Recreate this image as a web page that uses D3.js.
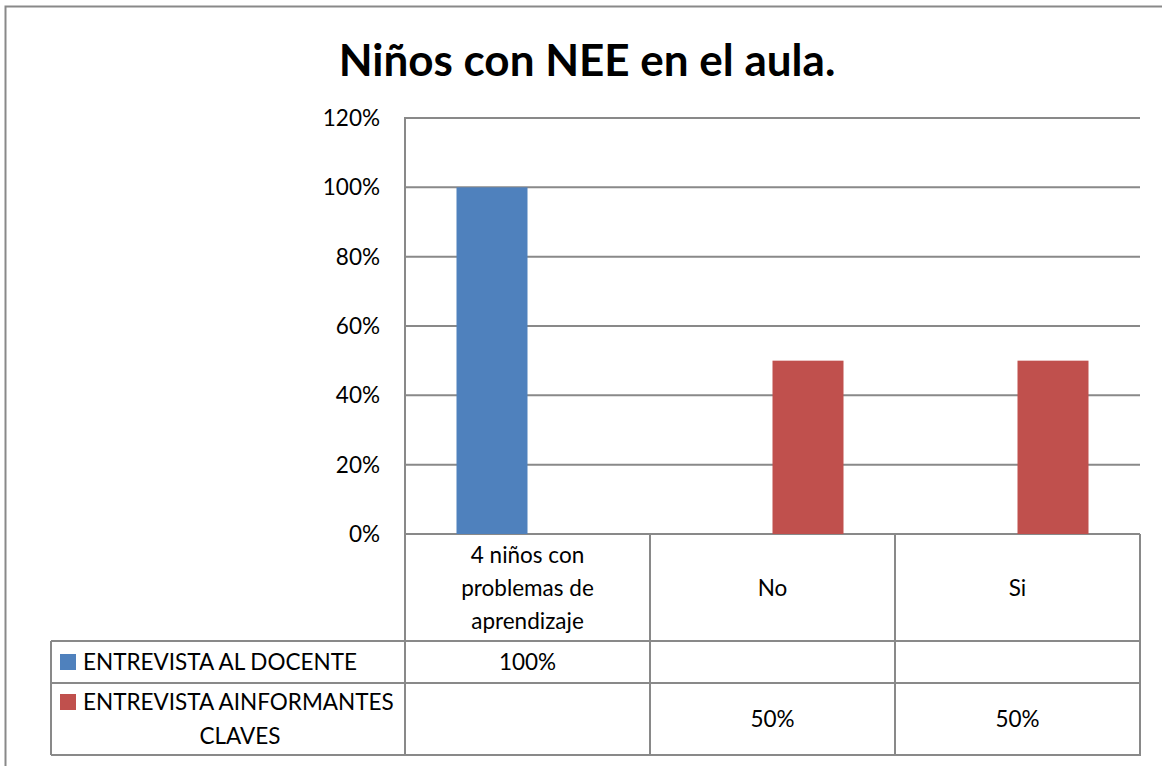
<!DOCTYPE html>
<html><head><meta charset="utf-8">
<script src="https://cdn.jsdelivr.net/npm/d3@7"></script>
<style>body{margin:0;background:#fff}svg{display:block}</style>
</head><body>
<svg id="c" width="1162" height="766"></svg>
<script>
const title = "Niños con NEE en el aula.";
const categories = [["4 niños con","problemas de","aprendizaje"],["No"],["Si"]];
const seriesNames = [["ENTREVISTA AL DOCENTE"],["ENTREVISTA AINFORMANTES","CLAVES"]];
const docente = [1.0, null, null];
const informantes = [null, 0.5, 0.5];
const colors = ["#4F81BD","#C0504D"];
const yTicks = [0,0.2,0.4,0.6,0.8,1.0,1.2];

const series = [docente, informantes];
const svg = d3.select("#c");
const font = "Lato, 'Open Sans', sans-serif";
const fs = 22.5;
const grid = "#898989";

// outer border
svg.append("rect").attr("x",5.5).attr("y",6.5).attr("width",1170).attr("height",800)
  .attr("fill","none").attr("stroke","#898989").attr("stroke-width",2);

svg.append("text").attr("x",587).attr("y",76).attr("text-anchor","middle")
  .attr("font-family",font).attr("font-weight","bold").attr("font-size",44).attr("fill","#000").text(title);

const L=405, R=1140, T=118, B=534;
const x = d3.scaleBand().domain(d3.range(categories.length)).range([L,R]);
const y = d3.scaleLinear().domain([0,1.2]).range([B,T]);
const xi = d3.scaleBand().domain(d3.range(series.length)).range([0,142]);

// gridlines
svg.append("g").selectAll("line").data(yTicks).join("line")
  .attr("x1",L).attr("x2",R).attr("y1",d=>y(d)).attr("y2",d=>y(d))
  .attr("stroke",grid).attr("stroke-width",2);
svg.append("line").attr("x1",L).attr("x2",L).attr("y1",T-1).attr("y2",B).attr("stroke",grid).attr("stroke-width",2);

// y labels
svg.append("g").selectAll("text").data(yTicks).join("text")
  .attr("x",380).attr("y",d=>y(d)+8).attr("text-anchor","end")
  .attr("font-family",font).attr("font-size",fs).text(d=>d3.format(".0%")(d));

// bars
series.forEach((s,si)=>{
  svg.append("g").selectAll("rect").data(s.map((v,i)=>({v,i})).filter(d=>d.v!=null)).join("rect")
    .attr("x",d=>x(d.i)+(x.bandwidth()-142)/2+xi(si)).attr("width",xi.bandwidth())
    .attr("y",d=>y(d.v)).attr("height",d=>B-y(d.v)).attr("fill",colors[si]);
});

// data table
const rows = [B, 641, 683, 755];
const tbl = svg.append("g").attr("stroke",grid).attr("stroke-width",2);
x.domain().forEach(i=>{ tbl.append("line").attr("x1",x(i)).attr("x2",x(i)).attr("y1",B).attr("y2",rows[3]); });
tbl.append("line").attr("x1",R).attr("x2",R).attr("y1",B).attr("y2",rows[3]);
tbl.append("line").attr("x1",51).attr("x2",51).attr("y1",rows[1]).attr("y2",rows[3]);
tbl.append("line").attr("x1",51).attr("x2",R).attr("y1",rows[1]).attr("y2",rows[1]);
tbl.append("line").attr("x1",51).attr("x2",R).attr("y1",rows[2]).attr("y2",rows[2]);
tbl.append("line").attr("x1",51).attr("x2",R+1).attr("y1",rows[3]).attr("y2",rows[3]);

// category labels
categories.forEach((lines,i)=>{
  const cx = x(i)+x.bandwidth()/2, cy=(rows[0]+rows[1])/2;
  lines.forEach((t,k)=>{
    svg.append("text").attr("x",cx).attr("y",cy+8+(k-(lines.length-1)/2)*33)
      .attr("text-anchor","middle").attr("font-family",font).attr("font-size",fs).text(t);
  });
});

// series rows
series.forEach((s,si)=>{
  const top=rows[si+1], bot=rows[si+2], cy=(top+bot)/2;
  const names = seriesNames[si];
  if(names.length===1){
    svg.append("rect").attr("x",60).attr("y",cy-8).attr("width",16).attr("height",16).attr("fill",colors[si]);
    svg.append("text").attr("x",83).attr("y",cy+8).attr("font-family",font).attr("font-size",fs).text(names[0]);
  } else {
    const y1 = cy-17;
    svg.append("rect").attr("x",60).attr("y",y1-8).attr("width",16).attr("height",16).attr("fill",colors[si]);
    svg.append("text").attr("x",83).attr("y",y1+8).attr("font-family",font).attr("font-size",fs).text(names[0]);
    svg.append("text").attr("x",240).attr("y",y1+8+34).attr("text-anchor","middle").attr("font-family",font).attr("font-size",fs).text(names[1]);
  }
  s.forEach((v,i)=>{
    if(v==null) return;
    svg.append("text").attr("x",x(i)+x.bandwidth()/2).attr("y",cy+8).attr("text-anchor","middle")
      .attr("font-family",font).attr("font-size",fs).text(d3.format(".0%")(v));
  });
});
</script>
</body></html>
